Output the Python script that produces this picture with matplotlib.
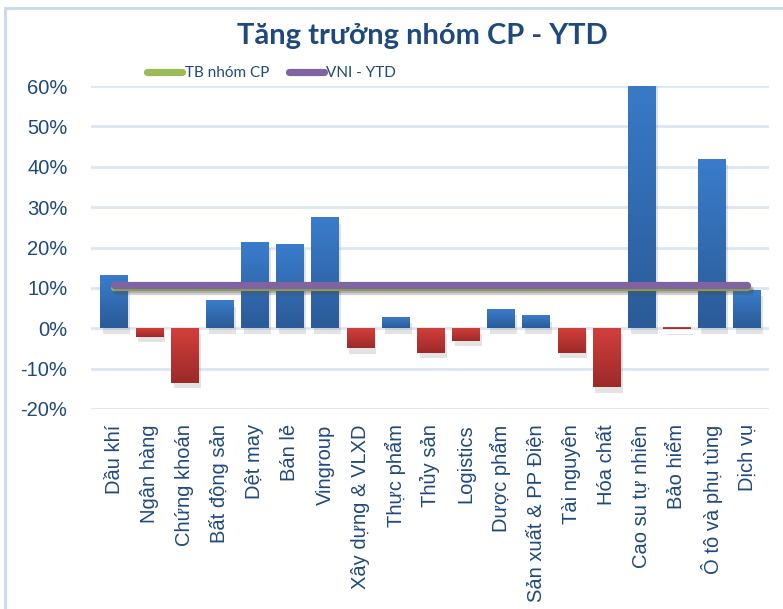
import matplotlib
matplotlib.use("Agg")
import matplotlib.pyplot as plt
import matplotlib.patheffects as pe
import numpy as np
from matplotlib.colors import LinearSegmentedColormap
from matplotlib.lines import Line2D
from matplotlib.patches import Rectangle

# dữ liệu
categories = ["Dầu khí", "Ngân hàng", "Chứng khoán", "Bất động sản", "Dệt may",
              "Bán lẻ", "Vingroup", "Xây dựng & VLXD", "Thực phẩm", "Thủy sản",
              "Logistics", "Dược phẩm", "Sản xuất & PP Điện", "Tài nguyên",
              "Hóa chất", "Cao su tự nhiên", "Bảo hiểm", "Ô tô và phụ tùng", "Dịch vụ"]
growth = [0.129, -0.021, -0.135, 0.067, 0.213, 0.208, 0.273, -0.049, 0.027, -0.061,
          -0.031, 0.047, 0.030, -0.061, -0.146, 0.65, -0.003, 0.417, 0.094]
tb_nhom_cp = 0.102
vni_ytd = 0.108
yticks = [-0.2, -0.1, 0.0, 0.1, 0.2, 0.3, 0.4, 0.5, 0.6]

navy = "#1F497D"
blue_cmap = LinearSegmentedColormap.from_list("b", ["#2B5B98", "#3A7CCB"])
red_cmap = LinearSegmentedColormap.from_list("r", ["#9C2A28", "#D23F3B"])
grad = np.linspace(0, 1, 64).reshape(-1, 1)

fig = plt.figure(figsize=(7.83, 6.09), dpi=100)
ax = fig.add_axes([91 / 783, 1 - 409 / 609, (769 - 91) / 783, (409 - 86) / 609])

x = np.arange(len(categories))
w = 0.77
# cột rỗng chỉ để vẽ bóng, màu gradient vẽ bằng imshow
ax.bar(x, growth, width=w, color="none", zorder=2,
       path_effects=[pe.SimplePatchShadow(offset=(2, -4), shadow_rgbFace="0.5", alpha=0.22),
                     pe.Normal()])
for xi, v in zip(x, growth):
    cmap = blue_cmap if v >= 0 else red_cmap
    lo, hi = (0, v) if v >= 0 else (v, 0)
    ax.imshow(grad, cmap=cmap, origin="lower", aspect="auto", zorder=3,
              extent=(xi - w / 2, xi + w / 2, lo, hi), interpolation="bilinear")

line_fx = [pe.SimpleLineShadow(offset=(2, -3), alpha=0.25, shadow_color="0.3"), pe.Normal()]
ax.plot(x, [tb_nhom_cp] * len(x), color="#9BBB59", lw=5.2, solid_capstyle="round",
        zorder=4, path_effects=line_fx)
ax.plot(x, [vni_ytd] * len(x), color="#8064A2", lw=5.2, solid_capstyle="round",
        zorder=5, path_effects=line_fx)

ax.set_xlim(-0.655, 18.63)
ax.set_ylim(-0.2, 0.6)
ax.set_yticks(yticks)
ax.set_yticklabels([f"{round(t * 100)}%" for t in yticks])
ax.set_xticks(x)
ax.set_xticklabels(categories, rotation=90, va="top", ha="center")
ax.tick_params(axis="both", length=0, labelcolor=navy, labelsize=14.5)
ax.tick_params(axis="y", pad=17)
ax.tick_params(axis="x", pad=11)
for lab in ax.get_xticklabels() + ax.get_yticklabels():
    lab.set_fontfamily("Liberation Sans")
ax.grid(axis="y", color="#DCE6F2", lw=2)
ax.set_axisbelow(True)
for s in ax.spines.values():
    s.set_visible(False)

fig.text(0.539, 0.941, "Tăng trưởng nhóm CP - YTD", ha="center", va="center",
         fontsize=21, fontweight="bold", family="Lato", color=navy)

handles = [Line2D([], [], color="#9BBB59", lw=5.2, solid_capstyle="round"),
           Line2D([], [], color="#8064A2", lw=5.2, solid_capstyle="round")]
fig.legend(handles, ["TB nhóm CP", "VNI - YTD"], loc="center", bbox_to_anchor=(0.347, 0.880),
           ncol=2, frameon=False, prop={"family": "Lato", "size": 11}, labelcolor=navy,
           handlelength=2.3, handletextpad=0.15, columnspacing=1.3)

fig.patches.append(Rectangle((5 / 783, -0.1), 1.2, 1 - 8 / 609 + 0.1, transform=fig.transFigure,
                             fill=False, edgecolor="#C6D9F1", lw=2))

fig.savefig("out.png", dpi=100)
